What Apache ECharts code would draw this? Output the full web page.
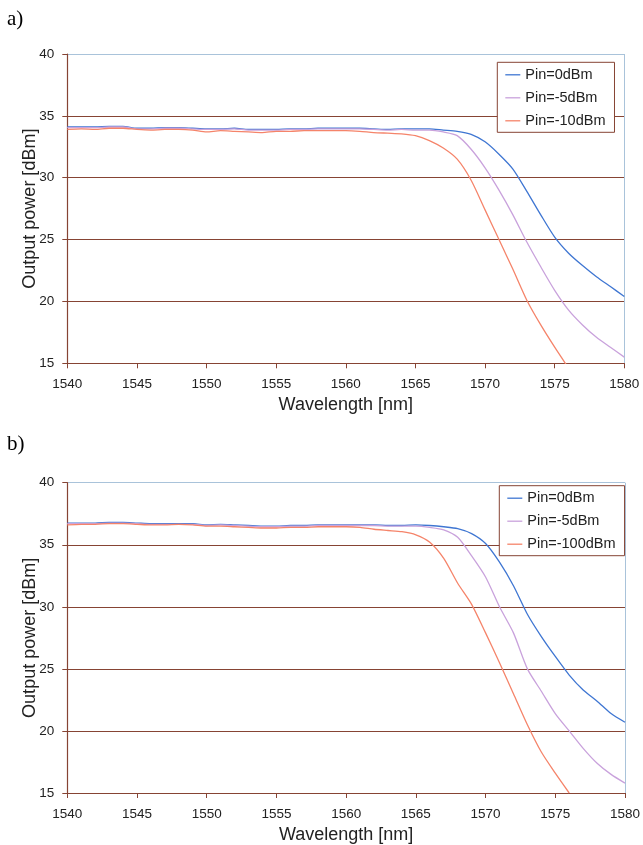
<!DOCTYPE html>
<html><head><meta charset="utf-8">
<script src="https://cdn.jsdelivr.net/npm/echarts@6/dist/echarts.min.js"></script>
<style>html,body{margin:0;padding:0;background:#fff}#c{width:643px;height:845px}</style>
</head><body><div id="c"></div><script>
const wavelengths = [1540,1541,1542,1543,1544,1545,1546,1547,1548,1549,1550,1551,1552,1553,1554,1555,1556,1557,1558,1559,1560,1561,1562,1563,1564,1565,1566,1567,1568,1569,1570,1571,1572,1573,1574,1575,1576,1577,1578,1579,1580];
const xTicks = [1540,1545,1550,1555,1560,1565,1570,1575,1580];
const yTicks = [15,20,25,30,35,40];

// panel a)
const aPin0 = [34.1,34.1,34.1,34.15,34.15,34.0,34.0,34.05,34.05,34.0,33.95,33.95,34.0,33.9,33.9,33.9,33.95,33.95,34.0,34.0,34.0,34.0,33.95,33.9,33.95,33.95,33.95,33.85,33.75,33.5,32.9,31.9,30.7,28.9,27.0,25.2,23.9,22.9,22.0,21.2,20.4];
const aPin5 = [34.05,34.05,34.05,34.1,34.1,33.95,33.95,34.0,34.0,33.95,33.9,33.9,33.95,33.85,33.85,33.85,33.9,33.9,33.95,33.95,33.95,33.95,33.9,33.85,33.9,33.85,33.85,33.7,33.4,32.3,30.8,29.0,27.0,24.8,22.8,20.9,19.3,18.1,17.1,16.3,15.5];
const aPin10 = [33.9,33.95,33.9,34.0,34.0,33.9,33.85,33.9,33.9,33.85,33.7,33.8,33.75,33.7,33.65,33.75,33.75,33.8,33.8,33.8,33.8,33.75,33.65,33.6,33.55,33.4,33.0,32.4,31.5,29.8,27.4,25.0,22.6,20.1,18.1,16.3,14.6];

// panel b)
const bPin0 = [36.75,36.75,36.75,36.8,36.8,36.75,36.7,36.7,36.7,36.7,36.6,36.65,36.6,36.55,36.5,36.5,36.55,36.55,36.6,36.6,36.6,36.6,36.6,36.55,36.55,36.6,36.55,36.45,36.3,35.9,35.1,33.6,31.7,29.4,27.6,26.0,24.5,23.3,22.4,21.4,20.7];
const bPin5 = [36.7,36.7,36.7,36.75,36.75,36.7,36.65,36.65,36.65,36.65,36.55,36.6,36.55,36.5,36.45,36.45,36.5,36.5,36.55,36.55,36.55,36.55,36.55,36.5,36.5,36.5,36.4,36.2,35.6,34.1,32.4,30.0,27.9,25.0,23.2,21.4,20.0,18.6,17.4,16.5,15.8];
const bPin100 = [36.6,36.65,36.65,36.7,36.7,36.65,36.6,36.6,36.65,36.6,36.5,36.5,36.45,36.4,36.35,36.35,36.4,36.4,36.45,36.45,36.45,36.4,36.25,36.15,36.05,35.8,35.2,33.9,31.9,30.2,27.9,25.5,23.0,20.5,18.3,16.6,15.0];

const namesA = ['Pin=0dBm','Pin=-5dBm','Pin=-10dBm'];
const namesB = ['Pin=0dBm','Pin=-5dBm','Pin=-100dBm'];
const colors = ['#3f76d2','#c9a2dc','#f5846a'];

const FONT = 'Arial, "Liberation Sans", sans-serif';
const BROWN = '#864434';
const LIGHT = '#a9c3da';
const LINE_ICON = 'path://M0,0 L15,0 L15,1.3 L0,1.3 Z';
const pair = vals => vals.map((v,i)=>[wavelengths[i], v]);

function xAxis(gi){
  return {type:'value', gridIndex:gi, min:1540, max:1580, interval:5,
    name:'Wavelength [nm]', nameLocation:'middle', nameGap:33, nameMoveOverlap:false,
    nameTextStyle:{fontFamily:FONT, fontSize:18, color:'#222'},
    axisLine:{show:true, lineStyle:{color:BROWN, width:1.2}},
    axisTick:{show:true, inside:false, length:5, lineStyle:{color:BROWN}},
    axisLabel:{fontFamily:FONT, fontSize:13.5, color:'#222', margin:14, formatter:v=>String(v)},
    splitLine:{show:true, lineStyle:{color:['rgba(0,0,0,0)','rgba(0,0,0,0)','rgba(0,0,0,0)','rgba(0,0,0,0)','rgba(0,0,0,0)','rgba(0,0,0,0)','rgba(0,0,0,0)','rgba(0,0,0,0)',LIGHT], width:1}}
  };
}
function yAxis(gi){
  return {type:'value', gridIndex:gi, min:15, max:40, interval:5,
    name:'Output power [dBm]', nameLocation:'middle', nameGap:28, nameMoveOverlap:false,
    nameTextStyle:{fontFamily:FONT, fontSize:18, color:'#222'},
    axisLine:{show:true, lineStyle:{color:BROWN, width:1.2}},
    axisTick:{show:true, inside:false, length:5, lineStyle:{color:BROWN}},
    axisLabel:{fontFamily:FONT, fontSize:13.5, color:'#222', margin:13, formatter:v=>String(v)},
    splitLine:{show:true, lineStyle:{color:[BROWN,BROWN,BROWN,BROWN,BROWN,LIGHT], width:1.2}}
  };
}
function legend(names, left, top){
  return {data:names.map((n,i)=>({name:n, icon:LINE_ICON, itemStyle:{color:colors[i]}})),
    orient:'vertical', left:left, top:top, symbolKeepAspect:true,
    backgroundColor:'#fff', borderColor:BROWN, borderWidth:1, borderRadius:0,
    padding:[5,9,4,8], itemGap:8, itemWidth:15, itemHeight:14,
    textStyle:{fontFamily:FONT, fontSize:14.5, color:'#222'},
    selectedMode:false};
}
function line(name, data, color, xi, yi){
  return {type:'line', name:name, data:data, xAxisIndex:xi, yAxisIndex:yi,
    symbol:'none', smooth:0.25, clip:true, lineStyle:{color:color, width:1.3},
    itemStyle:{color:color}, animation:false};
}

const chart = echarts.init(document.getElementById('c'), null, {renderer:'canvas'});
chart.setOption({
  animation:false,
  backgroundColor:'#fff',
  color:colors,
  grid:[
    {left:67.3, top:54, width:557, height:309.3},
    {left:67.3, top:482.7, width:562.4, height:310.6}
  ],
  xAxis:[xAxis(0), xAxis(1)],
  yAxis:[yAxis(0), yAxis(1)],
  legend:[legend(namesA, 497.3, 62.3), legend(namesB, 499.3, 485.7)],
  graphic:[
    {type:'text', left:7, top:9, style:{text:'a)', font:'21px "Liberation Serif", "Times New Roman", serif', fill:'#000'}},
    {type:'text', left:7, top:434, style:{text:'b)', font:'21px "Liberation Serif", "Times New Roman", serif', fill:'#000'}}
  ],
  series:[
    line(namesA[0], pair(aPin0), colors[0], 0, 0),
    line(namesA[1], pair(aPin5), colors[1], 0, 0),
    line(namesA[2], pair(aPin10), colors[2], 0, 0),
    line(namesB[0], pair(bPin0), colors[0], 1, 1),
    line(namesB[1], pair(bPin5), colors[1], 1, 1),
    line(namesB[2], pair(bPin100), colors[2], 1, 1)
  ]
});
</script></body></html>
